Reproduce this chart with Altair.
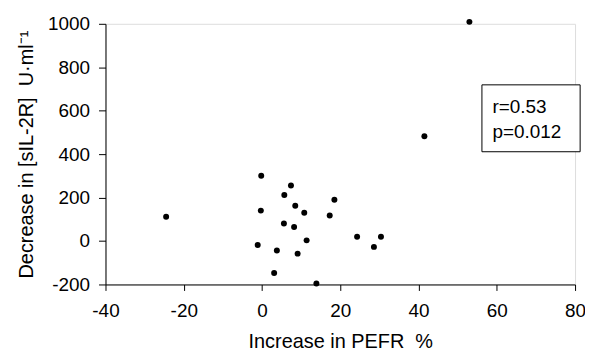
import altair as alt
import pandas as pd

pefr = [-24.5, -0.2, -0.3, -1.1, 7.4, 5.7, 8.5, 10.8, 5.6, 8.2, 11.4, 3.8, 9.1, 3.1, 13.9, 18.5, 17.3, 24.3, 30.4, 28.6, 53.0, 41.5]
sil2r = [112, 300, 140, -18, 256, 212, 162, 130, 81, 65, 3, -44, -58, -147, -196, 190, 117, 20, 20, -27, 1009, 482]

stats_lines = ["r=0.53", "p=0.012"]
stats_x = [58.9, 58.9]
stats_y = [588, 473]
box = {"x": [56.2], "x2": [81.3], "y": [411], "y2": [719]}

FONT = "Liberation Sans"
NB = "\u00a0"

df = pd.DataFrame({"pefr": pefr, "sil": sil2r})
xs = alt.Scale(domain=[-40, 80], nice=False, zero=False)
ys = alt.Scale(domain=[-200, 1000], nice=False, zero=False)

common = dict(grid=False, domainColor="black", tickColor="black", labelFontSize=19, titleFontSize=20,
              labelFont=FONT, titleFont=FONT, labelColor="black", titleColor="black",
              titleFontWeight="normal", labelFlush=False, labelExpr="'' + datum.value")

points = alt.Chart(df).mark_circle(size=36, color="black", opacity=1).encode(
    x=alt.X("pefr:Q", scale=xs, title="Increase in PEFR" + NB + NB + "%",
            axis=alt.Axis(values=list(range(-40, 81, 20)), tickSize=6, labelPadding=11, titlePadding=11, **common)),
    y=alt.Y("sil:Q", scale=ys, title="Decrease in [sIL-2R]" + NB + NB + "U·ml⁻¹",
            axis=alt.Axis(values=list(range(-200, 1001, 200)), tickSize=7, labelPadding=9, titlePadding=11, **common)),
)

bdf = pd.DataFrame(box)
rect = alt.Chart(bdf).mark_rect(fill="white", stroke="black", strokeWidth=1).encode(
    x=alt.X("x:Q", scale=xs), x2="x2:Q", y=alt.Y("y:Q", scale=ys), y2="y2:Q"
)

tdf = pd.DataFrame({"t": stats_lines, "x": stats_x, "y": stats_y})
text = alt.Chart(tdf).mark_text(align="left", baseline="alphabetic", fontSize=19, font=FONT, color="black").encode(
    x=alt.X("x:Q", scale=xs), y=alt.Y("y:Q", scale=ys), text="t:N"
)

chart = alt.layer(points, rect, text).properties(
    width=472, height=262,
    autosize=alt.AutoSizeParams(type="none"),
    padding={"left": 98, "top": 15, "right": 10, "bottom": 68},
).configure_view(stroke=None).configure(background="white")

chart.save("out.html", embed_options={"renderer": "svg", "actions": False})
